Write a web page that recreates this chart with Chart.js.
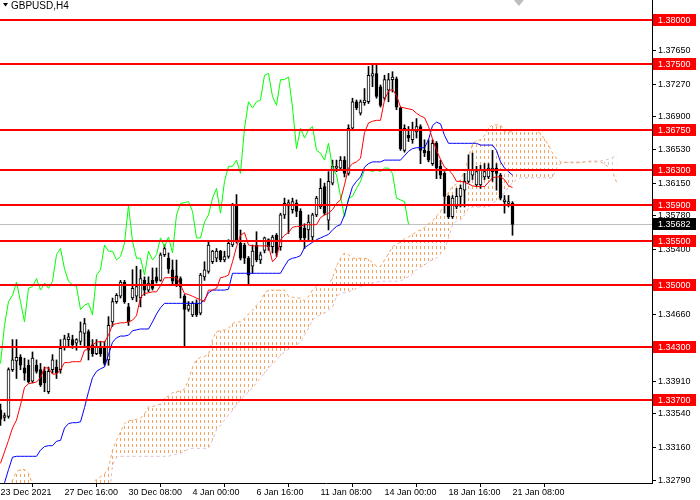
<!DOCTYPE html>
<html><head><meta charset="utf-8">
<script src="https://cdn.jsdelivr.net/npm/chart.js@4.4.0/dist/chart.umd.min.js"></script>
<style>html,body{margin:0;padding:0;background:#fff}canvas{display:block}</style>
</head><body>
<canvas id="c" width="700" height="500"></canvas>
<script>
const symbolTitle = 'GBPUSD,H4';
const timeTickBars = [0,16,32,48,64,80,96,112,128];
const timeTickLabels = ['23 Dec 2021','27 Dec 16:00','30 Dec 08:00','4 Jan 00:00','6 Jan 16:00','11 Jan 08:00','14 Jan 00:00','18 Jan 16:00','21 Jan 08:00'];
const priceTicks = [1.37650,1.37270,1.36900,1.36530,1.36150,1.35780,1.35400,1.34660,1.33910,1.33540,1.33160,1.32790];
const levels = [1.38000,1.37500,1.36750,1.36300,1.35900,1.35500,1.35000,1.34300,1.33700];
const lastPrice = 1.35682;
const priceMin = 1.32758, priceMax = 1.38221;
const chikouShift = 26;

const opens = [
1.3358,1.3350,1.3351,1.3404,1.3414,1.3418,1.3406,1.3409,1.3391,1.3409,
1.3404,1.3402,1.3379,1.3404,1.3407,1.3404,1.3430,1.3438,1.3438,1.3434,
1.3436,1.3445,1.3447,1.3432,1.3422,1.3428,1.3430,1.3415,1.3458,1.3481,
1.3487,1.3503,1.3475,1.3485,1.3487,1.3485,1.3505,1.3494,1.3505,1.3509,
1.3505,1.3534,1.3530,1.3517,1.3510,1.3507,1.3487,1.3472,1.3466,1.3479,
1.3468,1.3509,1.3515,1.3526,1.3530,1.3538,1.3528,1.3532,1.3545,1.3590,
1.3547,1.3545,1.3530,1.3521,1.3545,1.3528,1.3539,1.3551,1.3543,1.3556,
1.3543,1.3579,1.3589,1.3585,1.3592,1.3583,1.3564,1.3562,1.3554,1.3579,
1.3588,1.3611,1.3573,1.3615,1.3632,1.3632,1.3641,1.3626,1.3677,1.3707,
1.3694,1.3706,1.3707,1.3736,1.3739,1.3724,1.3711,1.3720,1.3732,1.3733,
1.3700,1.3652,1.3669,1.3664,1.3673,1.3679,1.3652,1.3651,1.3637,1.3660,
1.3634,1.3626,1.3600,1.3577,1.3588,1.3600,1.3607,1.3617,1.3624,1.3613,
1.3613,1.3622,1.3622,1.3628,1.3632,1.3624,1.3594,1.3592,1.3592];
const highs = [
1.3365,1.3355,1.3406,1.3438,1.3438,1.3421,1.3417,1.3415,1.3424,1.3415,
1.3411,1.3407,1.3407,1.3421,1.3415,1.3438,1.3443,1.3445,1.3443,1.3439,
1.3458,1.3462,1.3449,1.3438,1.3438,1.3436,1.3436,1.3464,1.3485,1.3490,
1.3505,1.3505,1.3479,1.3517,1.3521,1.3517,1.3509,1.3509,1.3519,1.3519,
1.3536,1.3545,1.3536,1.3528,1.3528,1.3509,1.3489,1.3481,1.3481,1.3483,
1.3513,1.3526,1.3549,1.3539,1.3541,1.3539,1.3538,1.3551,1.3592,1.3602,
1.3562,1.3547,1.3532,1.3545,1.3560,1.3537,1.3554,1.3552,1.3556,1.3558,
1.3581,1.3598,1.3596,1.3598,1.3596,1.3586,1.3569,1.3579,1.3581,1.3600,
1.3620,1.3615,1.3628,1.3641,1.3641,1.3645,1.3645,1.3681,1.3711,1.3709,
1.3709,1.3722,1.3747,1.3749,1.3749,1.3726,1.3737,1.3739,1.3741,1.3735,
1.3701,1.3681,1.3679,1.3684,1.3688,1.3681,1.3664,1.3664,1.3664,1.3662,
1.3641,1.3628,1.3601,1.3601,1.3609,1.3613,1.3626,1.3647,1.3649,1.3634,
1.3635,1.3637,1.3637,1.3652,1.3637,1.3626,1.3601,1.3601,1.3594];
const lows = [
1.3341,1.3346,1.3349,1.3402,1.3394,1.3404,1.3392,1.3389,1.3389,1.3400,
1.3385,1.3379,1.3377,1.3400,1.3394,1.3400,1.3426,1.3430,1.3428,1.3426,
1.3432,1.3430,1.3415,1.3419,1.3421,1.3419,1.3409,1.3409,1.3453,1.3479,
1.3485,1.3479,1.3454,1.3483,1.3481,1.3475,1.3488,1.3492,1.3494,1.3502,
1.3504,1.3532,1.3513,1.3500,1.3498,1.3485,1.3430,1.3470,1.3464,1.3464,
1.3466,1.3505,1.3513,1.3524,1.3526,1.3526,1.3526,1.3530,1.3543,1.3547,
1.3528,1.3524,1.3500,1.3513,1.3526,1.3524,1.3536,1.3539,1.3536,1.3532,
1.3539,1.3575,1.3558,1.3581,1.3577,1.3551,1.3541,1.3551,1.3551,1.3577,
1.3586,1.3579,1.3562,1.3613,1.3628,1.3630,1.3622,1.3624,1.3675,1.3698,
1.3692,1.3703,1.3705,1.3724,1.3711,1.3701,1.3709,1.3707,1.3718,1.3698,
1.3652,1.3650,1.3662,1.3660,1.3666,1.3637,1.3645,1.3639,1.3635,1.3620,
1.3620,1.3581,1.3575,1.3575,1.3586,1.3588,1.3588,1.3615,1.3619,1.3611,
1.3609,1.3619,1.3620,1.3617,1.3607,1.3596,1.3581,1.3588,1.3556];
const closes = [
1.3348,1.3352,1.3404,1.3415,1.3418,1.3409,1.3400,1.3390,1.3417,1.3402,
1.3387,1.3389,1.3402,1.3415,1.3400,1.3428,1.3439,1.3441,1.3432,1.3438,
1.3447,1.3456,1.3426,1.3422,1.3430,1.3422,1.3411,1.3454,1.3481,1.3488,
1.3503,1.3481,1.3458,1.3496,1.3498,1.3507,1.3494,1.3502,1.3496,1.3504,
1.3534,1.3541,1.3518,1.3504,1.3500,1.3498,1.3472,1.3477,1.3479,1.3466,
1.3511,1.3517,1.3545,1.3538,1.3538,1.3528,1.3532,1.3547,1.3590,1.3549,
1.3530,1.3530,1.3511,1.3538,1.3528,1.3534,1.3553,1.3543,1.3554,1.3536,
1.3579,1.3592,1.3593,1.3594,1.3583,1.3553,1.3553,1.3571,1.3579,1.3598,
1.3609,1.3581,1.3617,1.3634,1.3634,1.3641,1.3626,1.3677,1.3707,1.3700,
1.3707,1.3709,1.3737,1.3739,1.3713,1.3703,1.3732,1.3732,1.3735,1.3701,
1.3654,1.3677,1.3666,1.3675,1.3679,1.3652,1.3649,1.3641,1.3660,1.3632,
1.3624,1.3600,1.3577,1.3598,1.3600,1.3609,1.3617,1.3630,1.3630,1.3628,
1.3630,1.3628,1.3632,1.3632,1.3626,1.3598,1.3596,1.3594,1.35682];

const tenkan = [
1.3298,1.3311,1.3324,1.3338,1.3347,1.3364,1.3384,1.3388,1.3389,1.3390,
1.3395,1.3406,1.3406,1.3399,1.3399,1.3404,1.3412,1.3412,1.3413,1.3413,
1.3413,1.3426,1.3427,1.3432,1.3435,1.3436,1.3435,1.3443,1.3455,1.3456,
1.3457,1.3457,1.3458,1.3460,1.3465,1.3486,1.3490,1.3491,1.3492,1.3492,
1.3499,1.3508,1.3508,1.3508,1.3508,1.3500,1.3490,1.3489,1.3487,1.3485,
1.3483,1.3481,1.3494,1.3494,1.3496,1.3508,1.3509,1.3511,1.3526,1.3543,
1.3556,1.3559,1.3545,1.3544,1.3544,1.3544,1.3544,1.3544,1.3526,1.3531,
1.3551,1.3556,1.3559,1.3565,1.3566,1.3566,1.3568,1.3568,1.3568,1.3568,
1.3576,1.3579,1.3581,1.3585,1.3592,1.3596,1.3613,1.3632,1.3637,1.3639,
1.3643,1.3672,1.3683,1.3685,1.3686,1.3686,1.3709,1.3719,1.3721,1.3714,
1.3701,1.3700,1.3699,1.3698,1.3694,1.3691,1.3689,1.3679,1.3665,1.3652,
1.3642,1.3633,1.3630,1.3625,1.3617,1.3617,1.3616,1.3614,1.3612,1.3611,
1.3611,1.3611,1.3616,1.3621,1.3622,1.3622,1.3619,1.3612,1.3610];
const kijun = [
1.3257,1.3276,1.3291,1.3305,1.3306,1.3306,1.3306,1.3306,1.3306,1.3306,
1.3313,1.3317,1.3318,1.3318,1.3323,1.3324,1.3338,1.3343,1.3344,1.3344,
1.3345,1.3361,1.3379,1.3395,1.3402,1.3405,1.3407,1.3421,1.3435,1.3440,
1.3442,1.3442,1.3443,1.3448,1.3449,1.3450,1.3450,1.3450,1.3458,1.3467,
1.3474,1.3479,1.3479,1.3479,1.3479,1.3479,1.3479,1.3479,1.3479,1.3479,
1.3479,1.3483,1.3491,1.3494,1.3494,1.3494,1.3494,1.3495,1.3513,1.3513,
1.3513,1.3513,1.3513,1.3513,1.3513,1.3513,1.3513,1.3513,1.3513,1.3513,
1.3513,1.3521,1.3528,1.3530,1.3531,1.3533,1.3542,1.3545,1.3548,1.3551,
1.3553,1.3555,1.3557,1.3562,1.3566,1.3568,1.3579,1.3596,1.3611,1.3617,
1.3622,1.3633,1.3637,1.3639,1.3639,1.3639,1.3641,1.3641,1.3641,1.3641,
1.3641,1.3646,1.3651,1.3654,1.3655,1.3655,1.3655,1.3664,1.3680,1.3684,
1.3682,1.3669,1.3660,1.3660,1.3660,1.3660,1.3660,1.3660,1.3660,1.3660,
1.3658,1.3658,1.3658,1.3658,1.3652,1.3639,1.3632,1.3628,1.3624];
const spanA = [
1.3262,1.3266,1.3270,1.3279,1.3289,1.3291,1.3291,1.3287,1.3275,1.3268,
1.3262,1.3262,1.3262,1.3262,1.3262,1.3262,1.3262,1.3262,1.3262,1.3262,
1.3262,1.3262,1.3262,1.3276,1.3280,1.3283,1.3286,1.3293,1.3313,1.3324,
1.3334,1.3343,1.3346,1.3347,1.3348,1.3349,1.3354,1.3362,1.3362,1.3364,
1.3365,1.3372,1.3374,1.3378,1.3379,1.3380,1.3382,1.3392,1.3407,1.3415,
1.3418,1.3419,1.3421,1.3438,1.3447,1.3448,1.3449,1.3451,1.3456,1.3458,
1.3458,1.3462,1.3467,1.3471,1.3477,1.3481,1.3490,1.3494,1.3494,1.3494,
1.3494,1.3494,1.3487,1.3486,1.3485,1.3485,1.3482,1.3487,1.3494,1.3498,
1.3499,1.3500,1.3500,1.3508,1.3521,1.3530,1.3536,1.3534,1.3530,1.3530,
1.3530,1.3530,1.3529,1.3525,1.3521,1.3521,1.3528,1.3535,1.3543,1.3546,
1.3548,1.3552,1.3554,1.3557,1.3560,1.3562,1.3565,1.3569,1.3572,1.3578,
1.3582,1.3596,1.3605,1.3611,1.3614,1.3619,1.3628,1.3643,1.3660,1.3663,
1.3664,1.3669,1.3677,1.3681,1.3681,1.3681,1.3673,1.3673,1.3673,1.3675,
1.3675,1.3675,1.3675,1.3675,1.3674,1.3671,1.3665,1.3658,1.3649,1.3643,
1.3639,1.3639,1.3638,1.3638,1.3638,1.3638,1.3639,1.3639,1.3639,1.3639,
1.3639,1.3637,1.3633,1.3628,1.3616];
const spanB = [
1.3250,1.3250,1.3250,1.3250,1.3250,1.3250,1.3250,1.3250,1.3250,1.3250,
1.3250,1.3250,1.3250,1.3250,1.3250,1.3250,1.3250,1.3250,1.3250,1.3250,
1.3250,1.3250,1.3250,1.3250,1.3250,1.3250,1.3250,1.3250,1.3296,1.3305,
1.3306,1.3306,1.3306,1.3306,1.3306,1.3306,1.3306,1.3306,1.3306,1.3306,
1.3306,1.3306,1.3306,1.3308,1.3308,1.3309,1.3312,1.3314,1.3315,1.3315,
1.3315,1.3315,1.3315,1.3324,1.3336,1.3341,1.3347,1.3353,1.3358,1.3364,
1.3370,1.3374,1.3379,1.3383,1.3389,1.3395,1.3400,1.3406,1.3410,1.3415,
1.3420,1.3424,1.3427,1.3430,1.3432,1.3435,1.3443,1.3451,1.3460,1.3464,
1.3466,1.3468,1.3471,1.3475,1.3487,1.3490,1.3491,1.3492,1.3494,1.3496,
1.3498,1.3499,1.3500,1.3502,1.3503,1.3504,1.3504,1.3504,1.3504,1.3504,
1.3504,1.3507,1.3509,1.3512,1.3517,1.3520,1.3522,1.3526,1.3528,1.3530,
1.3535,1.3539,1.3553,1.3568,1.3572,1.3573,1.3579,1.3587,1.3588,1.3588,
1.3588,1.3588,1.3588,1.3591,1.3596,1.3599,1.3604,1.3610,1.3616,1.3619,
1.3621,1.3621,1.3621,1.3621,1.3621,1.3621,1.3621,1.3621,1.3621,1.3632,
1.3637,1.3638,1.3639,1.3639,1.3639,1.3639,1.3639,1.3640,1.3640,1.3640,
1.3640,1.3641,1.3642,1.3644,1.3647];

const FONT = '"Liberation Sans", Arial, sans-serif';
Chart.defaults.font.family = FONT;
Chart.defaults.font.size = 9;
Chart.defaults.color = '#000';

function hatch(color){
  const c = document.createElement('canvas'); c.width = 4; c.height = 6;
  const g = c.getContext('2d'); g.fillStyle = color; g.fillRect(0,0,1,3);
  return g.createPattern(c,'repeat');
}
const ORANGE = '#F4A460', THISTLE = '#D8BFD8';

const pts = arr => arr.map((v,i)=>({x:i, y:v}));
const wickData = highs.map((h,i)=>({x:i, y:[lows[i], h]}));
const bodyData = opens.map((o,i)=>({x:i, y:[o, closes[i]]}));
const chikouData = closes.slice(chikouShift).map((c,k)=>({x:k, y:c}));

const deco = {
  id:'deco',
  beforeDatasetsDraw(chart){
    const {ctx, chartArea:a, scales:{y}} = chart;
    const py = Math.round(y.getPixelForValue(lastPrice)) + 0.5;
    ctx.save(); ctx.strokeStyle = '#c0c0c0'; ctx.lineWidth = 1;
    ctx.beginPath(); ctx.moveTo(a.left, py); ctx.lineTo(a.right, py); ctx.stroke();
    ctx.restore();
  },
  afterDatasetsDraw(chart){
    const {ctx, chartArea:a, scales:{y}} = chart;
    ctx.save(); ctx.fillStyle = '#ff0000';
    levels.forEach(v=>{ const py = Math.round(y.getPixelForValue(v)); ctx.fillRect(a.left, py-1, a.right-a.left, 2); });
    ctx.restore();
  },
  afterDraw(chart){
    const {ctx, chartArea:a, scales:{x, y}} = chart;
    ctx.save();
    ctx.font = '9px ' + FONT; ctx.textBaseline = 'middle'; ctx.textAlign = 'left';
    const box = (v, bg) => {
      const py = Math.round(y.getPixelForValue(v));
      ctx.fillStyle = bg; ctx.fillRect(a.right+1, py-6, 43, 12);
      ctx.fillStyle = '#fff'; ctx.fillText(v.toFixed(5), a.right+6, py+0.5);
    };
    levels.forEach(v=>box(v, '#ff0000'));
    box(lastPrice, '#000');
    ctx.fillStyle = '#000';
    ctx.beginPath(); ctx.moveTo(3,3); ctx.lineTo(8,3); ctx.lineTo(5.5,6.5); ctx.closePath(); ctx.fill();
    ctx.font = '10px ' + FONT; ctx.textBaseline = 'middle';
    ctx.fillText(symbolTitle, 11, 6);
    const sx = x.getPixelForValue(129.6);
    ctx.fillStyle = '#bdbdbd';
    ctx.beginPath(); ctx.moveTo(sx-5,0); ctx.lineTo(sx+5,0); ctx.lineTo(sx,6); ctx.closePath(); ctx.fill();
    ctx.restore();
  }
};

new Chart(document.getElementById('c'), {
  data: {
    datasets: [
      {type:'line', label:'Tenkan', data:pts(tenkan), borderColor:'#ff0000', borderWidth:1, pointRadius:0, tension:0, order:1},
      {type:'line', label:'Kijun', data:pts(kijun), borderColor:'#0000ff', borderWidth:1, pointRadius:0, tension:0, order:1},
      {type:'line', label:'Chikou', data:chikouData, borderColor:'#00ff00', borderWidth:1, pointRadius:0, tension:0, order:1},
      {type:'bar', label:'Body', data:bodyData, barThickness:3, minBarLength:1, grouped:false,
        backgroundColor: c => (closes[c.dataIndex] >= opens[c.dataIndex] ? '#ffffff' : '#000000'),
        borderColor:'#000', borderWidth:1, borderSkipped:false, order:3},
      {type:'bar', label:'Wick', data:wickData, barThickness:1, grouped:false, backgroundColor:'#000', borderWidth:0, order:4},
      {type:'line', label:'SpanA', data:pts(spanA), borderColor:ORANGE, borderWidth:1, borderDash:[3,3], pointRadius:0, tension:0,
        fill:{target:'+1', above:hatch(ORANGE), below:hatch(THISTLE)}, order:6},
      {type:'line', label:'SpanB', data:pts(spanB), borderColor:THISTLE, borderWidth:1, borderDash:[3,3], pointRadius:0, tension:0, fill:false, order:7}
    ]
  },
  options: {
    responsive:false, animation:false, devicePixelRatio:1,
    layout:{padding:0},
    plugins:{legend:{display:false}, tooltip:{enabled:false}},
    scales:{
      x:{type:'linear', min:-0.125, max:162.875, offset:false,
        grid:{drawOnChartArea:false, drawTicks:true, tickLength:4, color:'#000'},
        border:{display:true, color:'#000'},
        afterBuildTicks: s => { s.ticks = timeTickBars.map(v=>({value:v})); },
        afterFit: s => { s.height = 17; s.paddingLeft = 0; s.paddingRight = 0; },
        ticks:{autoSkip:false, maxRotation:0, align:'start', padding:0, color:'#000',
          callback: (v) => { const k = timeTickBars.indexOf(v); return k >= 0 ? timeTickLabels[k] : ''; }}
      },
      y:{type:'linear', position:'right', min:priceMin, max:priceMax,
        grid:{drawOnChartArea:false, drawTicks:true, tickLength:4, color:'#000'},
        border:{display:true, color:'#000'},
        afterBuildTicks: s => { s.ticks = priceTicks.map(v=>({value:v})); },
        afterFit: s => { s.width = 48; s.paddingTop = 0; s.paddingBottom = 0; },
        ticks:{autoSkip:false, padding:2, color:'#000', callback: v => Number(v).toFixed(5)}
      }
    }
  },
  plugins:[deco]
});
</script>
</body></html>
